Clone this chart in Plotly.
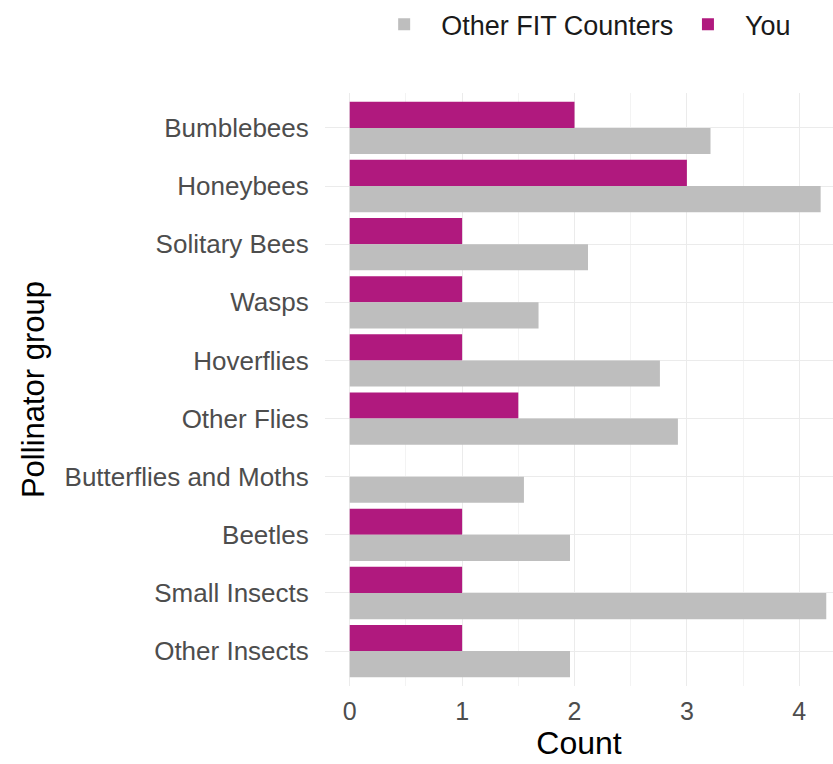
import plotly.graph_objects as go

categories = ["Bumblebees", "Honeybees", "Solitary Bees", "Wasps", "Hoverflies",
              "Other Flies", "Butterflies and Moths", "Beetles", "Small Insects", "Other Insects"]
you_values = [2, 3, 1, 1, 1, 1.5, 0, 1, 1, 1]
other_values = [3.21, 4.19, 2.12, 1.68, 2.76, 2.92, 1.55, 1.96, 4.24, 1.96]

fig = go.Figure()
fig.add_trace(go.Bar(y=categories, x=you_values, orientation="h", name="You",
                     marker=dict(color="#B0197E", line=dict(width=0)),
                     legend="legend2", showlegend=True))
fig.add_trace(go.Bar(y=categories, x=other_values, orientation="h", name="Other FIT Counters",
                     marker=dict(color="#BEBEBE", line=dict(width=0)),
                     legend="legend", showlegend=True))

legend_common = dict(orientation="h", y=1.115, yanchor="middle", xanchor="left",
                     font=dict(size=27, color="#1A1A1A"), itemwidth=64,
                     bgcolor="rgba(0,0,0,0)", visible=True)

fig.update_layout(
    width=833, height=764, showlegend=True,
    barmode="group", bargap=0.1, bargroupgap=0,
    plot_bgcolor="white", paper_bgcolor="white",
    margin=dict(l=325, r=0, t=93, b=78, autoexpand=False),
    font=dict(family="Liberation Sans, Arial, sans-serif", color="#4D4D4D", size=26),
    legend=dict(x=0.083, **legend_common),
    legend2=dict(x=0.681, **legend_common),
    xaxis=dict(range=[-0.22, 4.30], tickvals=[0, 1, 2, 3, 4], showgrid=True,
               gridcolor="#EBEBEB", gridwidth=1.2, zeroline=False, showline=False,
               ticks="outside", ticklen=3, tickcolor="rgba(0,0,0,0)",
               tickfont=dict(size=25, color="#4D4D4D"), automargin=False,
               minor=dict(dtick=0.5, tick0=0, showgrid=True, gridcolor="#F3F3F3", gridwidth=0.8),
               title=dict(text="Count", font=dict(size=32, color="#000000"), standoff=6)),
    yaxis=dict(categoryorder="array", categoryarray=categories, range=[9.6, -0.6],
               showgrid=True, gridcolor="#EBEBEB", gridwidth=1.2, zeroline=False,
               ticks="outside", ticklen=10, tickcolor="rgba(0,0,0,0)",
               tickfont=dict(size=26, color="#4D4D4D"), automargin=False,
               title=dict(text="Pollinator group", font=dict(size=31, color="#000000"), standoff=10)),
)

fig.write_html("out.html", config={"displayModeBar": False},
               post_script="document.body.style.margin='0';document.body.style.padding='0';")
